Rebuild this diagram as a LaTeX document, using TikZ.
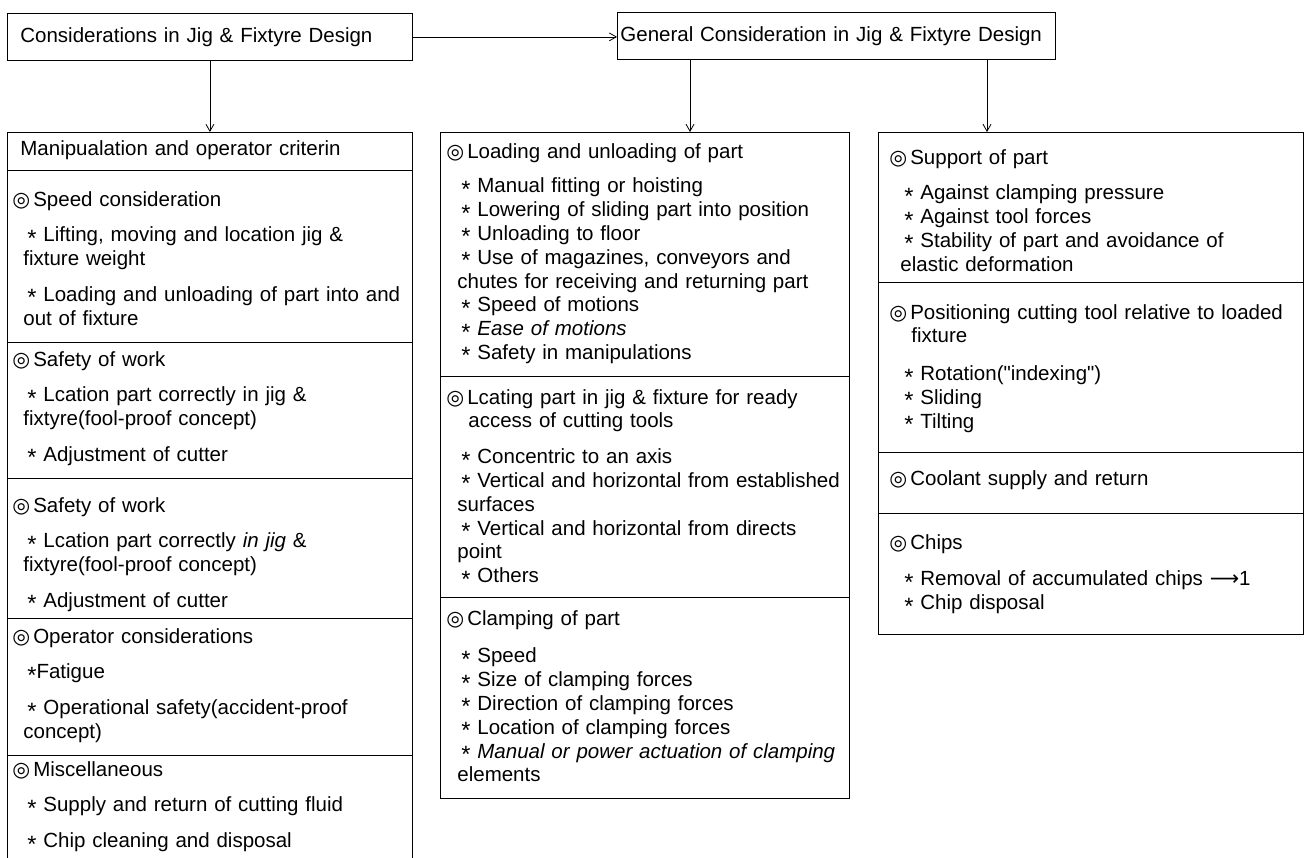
\documentclass[tikz,border=0pt]{standalone}
\usepackage{fontspec}
\setmainfont{Liberation Sans}
\newfontfamily\symfont{DejaVu Sans}
\usetikzlibrary{arrows.meta, positioning}
\tikzset{
  every picture/.style={line width=0.8pt, x=1pt, y=-1pt, font=\fontsize{20.5}{23.8}\selectfont},
  box/.style={draw, align=left, anchor=north west, inner xsep=13pt, inner ysep=0pt, minimum height=47pt},
  frame/.style={draw, anchor=north west, inner sep=0pt},
  arrow/.style={-{Straight Barb[length=7pt, width=8pt]}},
  sect/.style={anchor=base west, inner sep=0pt, align=left, text width=#1},
  sect/.default=392pt,
}
\begin{document}
\begin{tikzpicture}
  \newcommand{\dcirc}{{\symfont ◎}\hspace{3pt}}
  \newcommand{\bul}{\smash{\raisebox{-0.22em}{\scalebox{1.15}{*}}}}
  \newcommand{\itm}{\hspace*{15pt}\bul\ }
  \newcommand{\cnt}{\hspace*{11pt}}
  \useasboundingbox (0,0) rectangle (1305,857);

  % ---- top row
  \node[box, text width=379pt] (consid) at (7,13) {Considerations in Jig \& Fixtyre Design};
  \node[box, text width=432pt, inner xsep=3pt] (general) at (617,12) {General Consideration in Jig \& Fixtyre Design};

  % ---- column frames
  \node[frame, minimum width=405pt, minimum height=740pt] (lcol) at (7,132) {};
  \node[frame, minimum width=409pt, minimum height=666pt] (mcol) at (440,132) {};
  \node[frame, minimum width=425pt, minimum height=502pt] (rcol) at (878,132) {};
  \foreach \y in {170,342,478,618,755} \draw (lcol.west |- 0,\y) -- (lcol.east |- 0,\y);
  \foreach \y in {376,597} \draw (mcol.west |- 0,\y) -- (mcol.east |- 0,\y);
  \foreach \y in {282,452,513} \draw (rcol.west |- 0,\y) -- (rcol.east |- 0,\y);

  % ---- left column
  \node[sect=380pt] (ltitle) at (20,155) {Manipualation and operator criterin};
  \node[sect] (lspeed) at (12,206) {\dcirc Speed consideration\\[12pt]
    \itm Lifting, moving and location jig \&\\ \cnt fixture weight\\[12pt]
    \itm Loading and unloading of part into and\\ \cnt out of fixture};
  \node[sect] (lsafe) at (12,366) {\dcirc Safety of work\\[12pt]
    \itm Lcation part correctly in jig \&\\ \cnt fixtyre(fool-proof concept)\\[12pt]
    \itm Adjustment of cutter};
  \node[sect] (lsafeb) at (12,512) {\dcirc Safety of work\\[12pt]
    \itm Lcation part correctly \textit{in jig} \&\\ \cnt fixtyre(fool-proof concept)\\[12pt]
    \itm Adjustment of cutter};
  \node[sect] (loper) at (12,643) {\dcirc Operator considerations\\[12pt]
    \hspace*{15pt}\bul Fatigue\\[12pt]
    \itm Operational safety(accident-proof\\ \cnt concept)};
  \node[sect] (lmisc) at (12,776) {\dcirc Miscellaneous\\[12pt]
    \itm Supply and return of cutting fluid\\[12pt]
    \itm Chip cleaning and disposal};

  % ---- middle column
  \node[sect=400pt] (mload) at (446,158) {\dcirc Loading and unloading of part\\[11pt]
    \itm Manual fitting or hoisting\\
    \itm Lowering of sliding part into position\\
    \itm Unloading to floor\\
    \itm Use of magazines, conveyors and\\ \cnt chutes for receiving and returning part\\
    \itm Speed of motions\\
    \itm \textit{Ease of motions}\\
    \itm Safety in manipulations};
  \node[sect=400pt] (mloc) at (446,404) {\dcirc Lcating part in jig \& fixture for ready\\
    \hspace*{22pt}access of cutting tools\\[12pt]
    \itm Concentric to an axis\\
    \itm Vertical and horizontal from established\\ \cnt surfaces\\
    \itm Vertical and horizontal from directs\\ \cnt point\\
    \itm Others};
  \node[sect=400pt] (mclamp) at (446,625) {\dcirc Clamping of part\\[14pt]
    \itm Speed\\
    \itm Size of clamping forces\\
    \itm Direction of clamping forces\\
    \itm Location of clamping forces\\
    \itm \textit{Manual or power actuation of clamping}\\ \cnt elements};

  % ---- right column
  \node[sect=410pt] (rsup) at (889,164) {\dcirc Support of part\\[12pt]
    \itm Against clamping pressure\\
    \itm Against tool forces\\
    \itm Stability of part and avoidance of\\ \cnt elastic deformation};
  \node[sect=410pt] (rpos) at (889,319) {\dcirc Positioning cutting tool relative to loaded\\
    \hspace*{22pt}fixture\\[14pt]
    \itm Rotation({\addfontfeatures{Ligatures=TeXOff}"indexing"})\\
    \itm Sliding\\
    \itm Tilting};
  \node[sect=410pt] (rcool) at (889,485) {\dcirc Coolant supply and return};
  \node[sect=410pt] (rchip) at (889,549) {\dcirc Chips\\[13pt]
    \itm Removal of accumulated chips {\symfont ⟶}1\\
    \itm Chip disposal};

  % ---- arrows
  \coordinate (m-in) at (690,132);
  \coordinate (r-in) at (987,132);
  \draw[arrow] (consid.east) -- (consid.east -| general.west);
  \draw[arrow] (consid) -- (lcol);
  \draw[arrow] (general.south -| m-in) -- (m-in);
  \draw[arrow] (general.south -| r-in) -- (r-in);
\end{tikzpicture}
\end{document}
